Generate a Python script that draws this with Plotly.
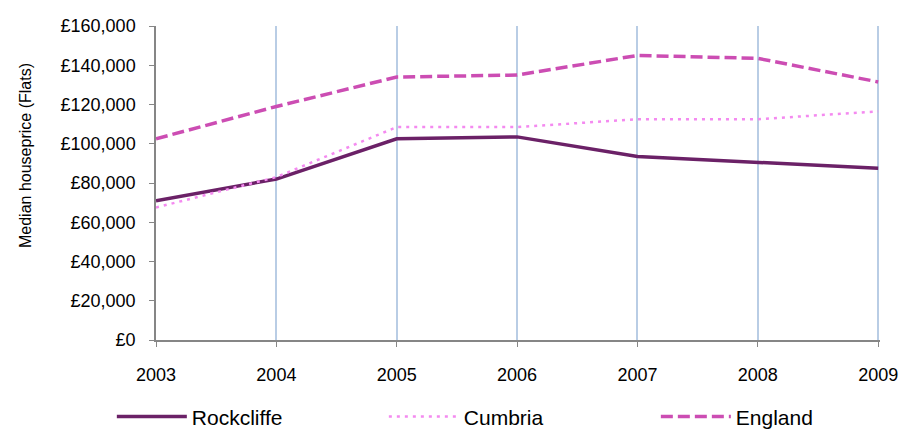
import plotly.graph_objects as go

years = [2003, 2004, 2005, 2006, 2007, 2008, 2009]
rockcliffe = [71000, 82000, 102500, 103500, 93500, 90500, 87500]
cumbria = [67500, 83000, 108500, 108500, 112500, 112500, 116500]
england = [102500, 119000, 134000, 135000, 145000, 143500, 131500]

font_family = "Liberation Sans, Arial, sans-serif"

fig = go.Figure()
fig.add_trace(go.Scatter(x=years, y=rockcliffe, name="Rockcliffe", mode="lines",
                         line=dict(color="#6B2167", width=3.5)))
fig.add_trace(go.Scatter(x=years, y=cumbria, name="Cumbria", mode="lines",
                         line=dict(color="#F48AF0", width=2.5, dash="3px,5px")))
fig.add_trace(go.Scatter(x=years, y=england, name="England", mode="lines",
                         line=dict(color="#CC4DB3", width=3.5, dash="12px,5px")))

fig.update_layout(
    width=917, height=431,
    margin=dict(l=148, r=45, t=18, b=99, autoexpand=False),
    paper_bgcolor="white", plot_bgcolor="white",
    font=dict(family=font_family, color="black", size=16),
    showlegend=True,
    legend=dict(orientation="h", x=-0.061, xanchor="left", y=-0.245, yanchor="middle",
                font=dict(size=21), entrywidth=187, entrywidthmode="pixels",
                itemwidth=70, bgcolor="rgba(0,0,0,0)"),
    xaxis=dict(range=[2003, 2009.015], tickmode="array", tickvals=years,
               ticktext=[str(y) for y in years], automargin=False,
               showline=True, linecolor="#868686", linewidth=1.5,
               ticks="outside", ticklen=5, tickcolor="#868686",
               showgrid=True, gridcolor="#B9CDE5", gridwidth=1.5,
               zeroline=False, tickfont=dict(size=18), ticklabelstandoff=13),
    yaxis=dict(range=[0, 160000], dtick=20000, tickprefix="£", tickformat=",",
               showline=True, linecolor="#868686", linewidth=1.5, automargin=False,
               ticks="outside", ticklen=5, tickcolor="#868686",
               showgrid=False, zeroline=False, tickfont=dict(size=18),
               ticklabelstandoff=10),
    annotations=[dict(text="Median houseprice (Flats)", textangle=-90,
                      xref="paper", yref="paper", x=-0.181, y=0.589,
                      xanchor="center", yanchor="middle", showarrow=False,
                      font=dict(size=16))],
)

fig.write_html("out.html")
